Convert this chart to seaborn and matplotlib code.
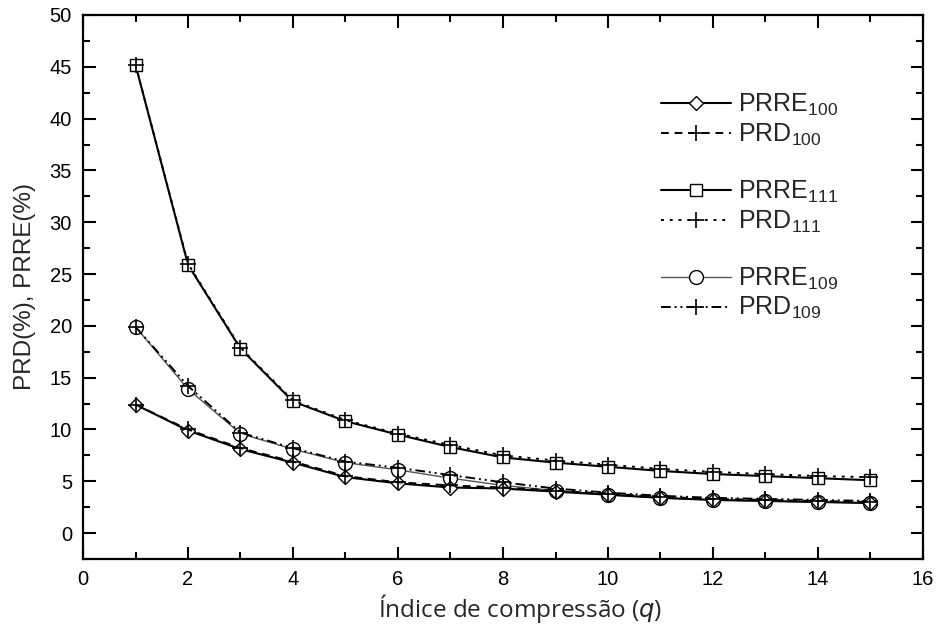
import numpy as np
import pandas as pd
import matplotlib
matplotlib.use("Agg")
import matplotlib.pyplot as plt
import seaborn as sns
from matplotlib.ticker import MultipleLocator
from matplotlib.lines import Line2D

q = list(range(1, 16))
prre_100 = [12.4, 9.9, 8.1, 6.8, 5.4, 4.8, 4.4, 4.3, 4.0, 3.7, 3.4, 3.2, 3.1, 3.0, 2.9]
prd_100  = [12.4, 10.0, 8.2, 6.9, 5.5, 4.9, 4.6, 4.4, 4.1, 3.8, 3.5, 3.3, 3.2, 3.1, 3.0]
prre_111 = [45.2, 25.9, 17.8, 12.7, 10.8, 9.5, 8.3, 7.3, 6.8, 6.4, 6.0, 5.7, 5.5, 5.3, 5.1]
prd_111  = [45.2, 26.0, 17.9, 12.8, 10.9, 9.6, 8.5, 7.5, 7.0, 6.6, 6.2, 5.9, 5.7, 5.5, 5.4]
prre_109 = [19.9, 13.9, 9.6, 8.1, 6.8, 6.1, 5.3, 4.6, 4.1, 3.7, 3.4, 3.2, 3.1, 3.0, 2.9]
prd_109  = [19.9, 14.2, 9.7, 8.2, 6.9, 6.3, 5.6, 4.9, 4.3, 3.9, 3.6, 3.4, 3.3, 3.2, 3.1]

labels = ["PRRE$_{100}$", "PRD$_{100}$", "PRRE$_{111}$", "PRD$_{111}$",
          "PRRE$_{109}$", "PRD$_{109}$"]
series = [prre_100, prd_100, prre_111, prd_111, prre_109, prd_109]

sns.set_style("ticks")
plt.rcParams["font.family"] = ["Liberation Sans", "DejaVu Sans"]
plt.rcParams["mathtext.fontset"] = "custom"
plt.rcParams["mathtext.rm"] = "Liberation Sans"
plt.rcParams["mathtext.default"] = "regular"

styles = [
    dict(color="black", lw=1.5, ls="-", marker="D", ms=7, mfc="white", mec="black", mew=1.0),
    dict(color="black", lw=1.4, ls=(0, (4, 3)), marker="+", ms=11, mew=1.2),
    dict(color="black", lw=1.5, ls="-", marker="s", ms=9, mfc="white", mec="black", mew=1.0),
    dict(color="black", lw=1.4, ls=(0, (1.5, 3)), marker="+", ms=11, mew=1.2),
    dict(color="#555555", lw=1.0, ls="-", marker="o", ms=10, mfc="white", mec="black", mew=1.0),
    dict(color="black", lw=1.4, ls=(0, (5, 2, 1, 2, 1, 2)), marker="+", ms=11, mew=1.2),
]

fig = plt.figure(figsize=(9.37, 6.31), dpi=100)
ax = fig.add_axes([83/937, 1 - 559/631, 840/937, 544/631])

order = [2, 3, 4, 5, 0, 1]
handles = [None] * 6
for i in order:
    df = pd.DataFrame({"q": q, "v": series[i]})
    st = styles[i]
    sns.lineplot(data=df, x="q", y="v", ax=ax, color=st["color"], linewidth=st["lw"],
                 linestyle=st["ls"] if isinstance(st["ls"], str) else "-",
                 marker=st["marker"], markersize=st["ms"],
                 markerfacecolor=st.get("mfc", st["color"]),
                 markeredgecolor=st.get("mec", "black"), markeredgewidth=st["mew"],
                 label=labels[i], legend=False)
    line = ax.lines[-1]
    if not isinstance(st["ls"], str):
        line.set_dashes(st["ls"][1])
    handles[i] = line

ax.set_xlim(0, 16)
ax.set_ylim(-2.5, 50)
ax.xaxis.set_major_locator(MultipleLocator(2))
ax.xaxis.set_minor_locator(MultipleLocator(1))
ax.yaxis.set_major_locator(MultipleLocator(5))
ax.yaxis.set_minor_locator(MultipleLocator(2.5))
ax.tick_params(which="both", direction="in", top=True, right=True, colors="black",
               labelsize=14.5, width=1.5)
ax.tick_params(which="major", length=9, pad=8)
ax.tick_params(which="minor", length=5)
for s in ax.spines.values():
    s.set_linewidth(1.6)
    s.set_color("black")

ax.set_xlabel("Índice de compressão ($\\it{q}$)", fontsize=17.5, fontfamily="Open Sans",
              color="#262626", labelpad=1)
ax.xaxis.set_label_coords(0.52, -0.06)
ax.set_ylabel("PRD(%), PRRE(%)", fontsize=17.5, labelpad=10)

blank = Line2D([], [], linestyle="none", marker=None)
leg_handles = [handles[0], handles[1], blank, handles[2], handles[3], blank,
               handles[4], handles[5]]
leg_labels = [labels[0], labels[1], "", labels[2], labels[3], "", labels[4], labels[5]]
ax.legend(leg_handles, leg_labels, loc="upper left", bbox_to_anchor=(0.667, 0.891),
          frameon=False, fontsize=18, handlelength=2.8, handletextpad=0.3,
          labelspacing=0.14, borderpad=0.2)

fig.savefig("out.png", dpi=100)
